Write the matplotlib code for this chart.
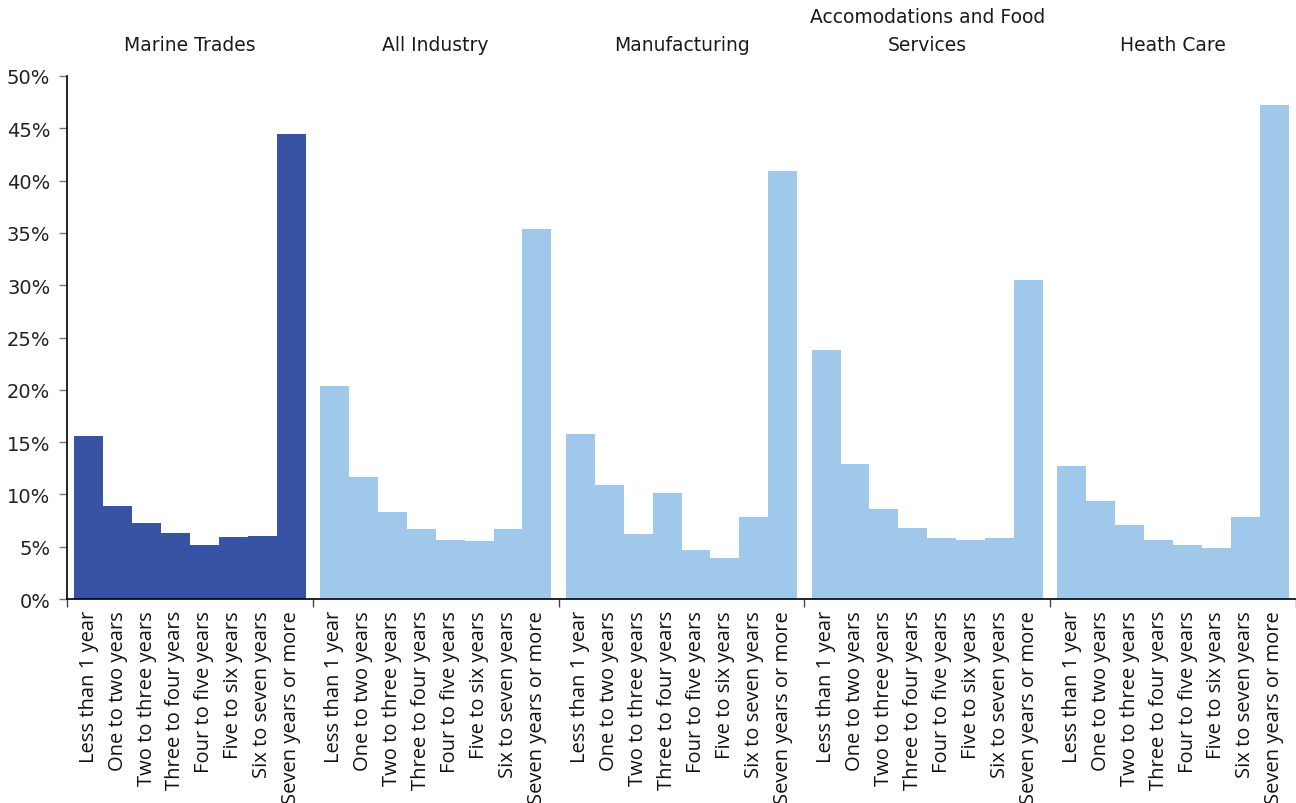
import matplotlib
matplotlib.use("Agg")
import matplotlib.pyplot as plt
from matplotlib.ticker import FuncFormatter, FixedLocator
import numpy as np

# Tenure categories and industries
categories = [
    "Less than 1 year", "One to two years", "Two to three years",
    "Three to four years", "Four to five years", "Five to six years",
    "Six to seven years", "Seven years or more",
]
industries = [
    "Marine Trades", "All Industry", "Manufacturing",
    "Accomodations and Food\nServices", "Heath Care",
]

# Share of workers by job tenure (%)
marine_trades = [15.6, 8.9, 7.3, 6.3, 5.2, 5.9, 6.05, 44.5]
all_industry = [20.4, 11.7, 8.3, 6.7, 5.6, 5.5, 6.7, 35.4]
manufacturing = [15.8, 10.9, 6.2, 10.1, 4.7, 3.9, 7.8, 40.9]
accommodations = [23.8, 12.9, 8.6, 6.8, 5.8, 5.6, 5.8, 30.5]
health_care = [12.7, 9.4, 7.1, 5.6, 5.2, 4.9, 7.8, 47.2]

series = [marine_trades, all_industry, manufacturing, accommodations, health_care]
colors = ["#3953A4", "#9FC8EA", "#9FC8EA", "#9FC8EA", "#9FC8EA"]

group_pitch = 8.5
inner_pad = 0.25

fig = plt.figure(figsize=(12.96, 8.04), dpi=100)
ax = fig.add_axes([67 / 1296, 1 - 600 / 804, 1 - 67 / 1296, (600 - 77) / 804])

label_font = ["Open Sans", "DejaVu Sans"]
tick_pos, tick_lab = [], []
for g, (vals, col) in enumerate(zip(series, colors)):
    start = g * group_pitch + inner_pad
    x = start + np.arange(len(vals)) + 0.5
    ax.bar(x, vals, width=1.0, color=col, linewidth=0)
    tick_pos.extend(x)
    tick_lab.extend(categories)
    ax.annotate(industries[g], xy=(start + len(vals) / 2, 1.0),
                xycoords=("data", "axes fraction"),
                xytext=(0, 15.5), textcoords="offset points",
                ha="center", va="bottom", fontsize=13.5,
                family="DejaVu Sans", color="#1a1a1a", linespacing=1.6)

ax.set_xlim(0, group_pitch * len(series))
ax.set_ylim(0, 50)

# Category labels under each bar, no tick marks
ax.set_xticks(tick_pos)
ax.set_xticklabels(tick_lab, rotation=90, fontsize=14.5, family=label_font,
                   color="#111111")
ax.tick_params(axis="x", length=0, pad=8)

# Group separators as minor ticks
ax.xaxis.set_minor_locator(FixedLocator([g * group_pitch for g in range(len(series) + 1)]))
ax.tick_params(axis="x", which="minor", length=6, width=1, color="#444444", direction="out")

ax.set_yticks(np.arange(0, 51, 5))
ax.yaxis.set_major_formatter(FuncFormatter(lambda v, _: f"{int(v)}%"))
ax.tick_params(axis="y", length=6, width=1, color="#777777", labelsize=14,
               labelcolor="#222222", pad=6)
for lbl in ax.get_yticklabels():
    lbl.set_family("DejaVu Sans")

for s in ("top", "right"):
    ax.spines[s].set_visible(False)
for s in ("left", "bottom"):
    ax.spines[s].set_color("black")
    ax.spines[s].set_linewidth(1.2)

fig.savefig("out.png", dpi=100)
